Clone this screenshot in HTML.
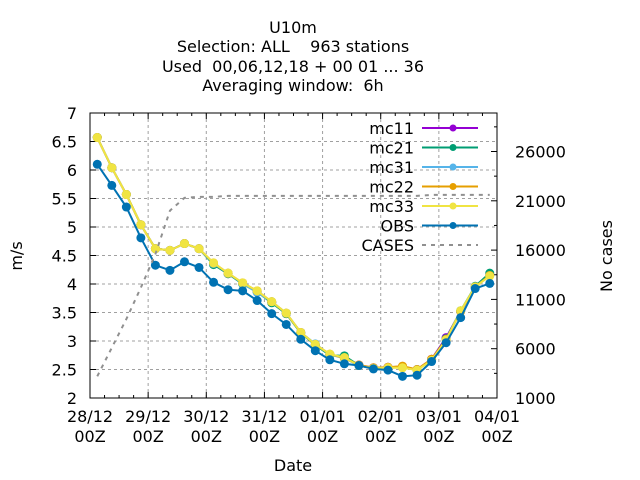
<!DOCTYPE html>
<html><head><meta charset="utf-8"><style>
body{margin:0;background:#fff;}
svg{display:block;font-family:"DejaVu Sans","Liberation Sans",sans-serif;}
</style></head><body>
<svg id="chart" width="640" height="480" xmlns="http://www.w3.org/2000/svg">
<g font-size="16" text-anchor="middle" fill="#000">
<text x="293" y="33">U10m</text>
<text x="293" y="52" xml:space="preserve">Selection: ALL    963 stations</text>
<text x="293" y="72" xml:space="preserve">Used  00,06,12,18 + 00 01 ... 36</text>
<text x="293" y="91" xml:space="preserve">Averaging window:  6h</text>
</g>
<g id="grid"></g><g id="axes"></g><g id="series"></g><g id="legend"></g>
<text x="22" y="256" font-size="16" text-anchor="middle" transform="rotate(-90 22 256)">m/s</text>
<text x="612" y="256" font-size="16" text-anchor="middle" transform="rotate(-90 612 256)">No cases</text>
<text x="293" y="471" font-size="16" text-anchor="middle">Date</text>
</svg>
<script>
const xLabels=["28/12","29/12","30/12","31/12","01/01","02/01","03/01","04/01"];
const yTicks=[2,2.5,3,3.5,4,4.5,5,5.5,6,6.5,7];
const y2Ticks=[1000,6000,11000,16000,21000,26000];
const hours=[3,9,15,21,27,33,39,45,51,57,63,69,75,81,87,93,99,105,111,117,123,129,135,141,147,153,159,165];
const obs=[6.10,5.73,5.35,4.81,4.33,4.24,4.39,4.29,4.03,3.90,3.88,3.71,3.48,3.29,3.03,2.83,2.67,2.60,2.57,2.51,2.49,2.38,2.40,2.64,2.97,3.41,3.92,4.01];
const mc33=[6.57,6.04,5.57,5.04,4.62,4.59,4.71,4.62,4.37,4.19,4.02,3.88,3.69,3.49,3.15,2.94,2.77,2.71,2.57,2.52,2.53,2.53,2.49,2.66,3.02,3.53,3.95,4.14];
const mc11=[6.57,6.04,5.57,5.04,4.62,4.59,4.71,4.62,4.35,4.18,4.01,3.87,3.68,3.48,3.15,2.93,2.76,2.71,2.58,2.53,2.54,2.55,2.50,2.68,3.06,3.52,3.95,4.16];
const mc21=[6.57,6.04,5.57,5.04,4.62,4.59,4.71,4.62,4.34,4.18,4.00,3.86,3.67,3.48,3.14,2.93,2.75,2.74,2.57,2.52,2.53,2.54,2.49,2.67,3.04,3.53,3.96,4.19];
const mc31=[6.57,6.04,5.57,5.04,4.62,4.59,4.71,4.62,4.36,4.19,4.01,3.85,3.69,3.49,3.15,2.95,2.76,2.70,2.57,2.52,2.53,2.54,2.50,2.66,3.03,3.52,3.95,4.15];
const mc22=[6.57,6.04,5.57,5.04,4.62,4.59,4.71,4.62,4.37,4.19,4.02,3.88,3.69,3.49,3.15,2.94,2.77,2.70,2.58,2.53,2.54,2.56,2.50,2.68,3.03,3.52,3.95,4.15];
const cases=[3200,6100,9000,12200,15600,20000,21300,21400,21400,21500,21500,21500,21500,21500,21500,21500,21500,21500,21500,21500,21500,21500,21500,21600,21600,21600,21600,21600];
const L=90,R=497,T=113,B=398;
const xS=h=>L+(R-L)*h/168;
const yS=v=>B-(v-2)/5*(B-T);
const y2S=v=>B-(v-1000)/5000*49.3;
const NS="http://www.w3.org/2000/svg";
function mk(tag,attrs,parent){const e=document.createElementNS(NS,tag);for(const k in attrs)e.setAttribute(k,attrs[k]);parent.appendChild(e);return e;}
const grid=document.getElementById('grid'),axes=document.getElementById('axes'),ser=document.getElementById('series'),leg=document.getElementById('legend');
yTicks.forEach((t,i)=>{const y=yS(t);
 if(i>0&&i<yTicks.length-1){const g=mk('line',{x1:L,x2:R,y1:y,y2:y,stroke:'#a0a0a0','stroke-dasharray':'3,3'},grid);}
 mk('line',{x1:L,x2:L+6,y1:y,y2:y,stroke:'#000'},axes);
 const tx=mk('text',{x:L-13,y:y+6,'font-size':16,'text-anchor':'end'},axes);tx.textContent=String(t);
 });
y2Ticks.forEach(t=>{const y=y2S(t);
 mk('line',{x1:R-6,x2:R,y1:y,y2:y,stroke:'#000'},axes);
 const ym=y2S(t+2500);if(ym>T)mk('line',{x1:R-3,x2:R,y1:ym,y2:ym,stroke:'#000'},axes);
 const tx=mk('text',{x:R+18,y:y+6,'font-size':16},axes);tx.textContent=String(t);
 });
xLabels.forEach((lab,i)=>{const x=xS(i*24);
 if(i>0&&i<xLabels.length-1){const g=mk('line',{x1:x,x2:x,y1:T,y2:B,stroke:'#a0a0a0','stroke-dasharray':'3,3'},grid);}
 mk('line',{x1:x,x2:x,y1:B,y2:B-6,stroke:'#000'},axes);mk('line',{x1:x,x2:x,y1:T,y2:T+6,stroke:'#000'},axes);
 const tx=mk('text',{x:x,y:B+24,'font-size':16,'text-anchor':'middle'},axes);tx.textContent=lab;
 
 const t2=mk('text',{x:x,y:B+44,'font-size':16,'text-anchor':'middle'},axes);t2.textContent='00Z';
 });
for(let h=6;h<168;h+=6){if(h%24){const x=xS(h);mk('line',{x1:x,x2:x,y1:B,y2:B-3,stroke:'#000'},axes);mk('line',{x1:x,x2:x,y1:T,y2:T+3,stroke:'#000'},axes);}}
const frame=mk('rect',{x:L,y:T,width:R-L,height:B-T,fill:'none',stroke:'#000'},axes);

const series=[["mc11",mc11,"#9400d3"],["mc21",mc21,"#009e73"],["mc31",mc31,"#56b4e9"],["mc22",mc22,"#e69f00"],["mc33",mc33,"#f0e442"],["OBS",obs,"#0072b2"]];
function drawSeries(name,vals,col){const g=mk('g',{},ser);
 
 mk('polyline',{points:vals.map((v,i)=>xS(hours[i])+','+yS(v)).join(' '),fill:'none',stroke:col,'stroke-width':2},g);
 vals.forEach((v,i)=>{const c=mk('circle',{cx:xS(hours[i]),cy:yS(v),r:4.5,fill:col},g);
  });}
series.forEach(s=>drawSeries(s[0],s[1],s[2]));
const cl=mk('polyline',{points:cases.map((v,i)=>xS(hours[i])+','+y2S(v)).join(' '),fill:'none',stroke:'#909090','stroke-width':2,'stroke-dasharray':'4,5'},ser);

const legItems=series.concat([["CASES",null,"#909090"]]);
legItems.forEach((s,i)=>{const y=128+i*19.5;const g=mk('g',{},leg);
 
 const t=mk('text',{x:414,y:y+6,'font-size':16,'text-anchor':'end'},g);t.textContent=s[0];
 if(s[1]){mk('line',{x1:422,x2:478,y1:y,y2:y,stroke:s[2],'stroke-width':2},g);mk('circle',{cx:453,cy:y,r:3.5,fill:s[2]},g);}
 else mk('line',{x1:422,x2:478,y1:y,y2:y,stroke:s[2],'stroke-width':2,'stroke-dasharray':'4,5'},g);});
</script>
</body></html>
